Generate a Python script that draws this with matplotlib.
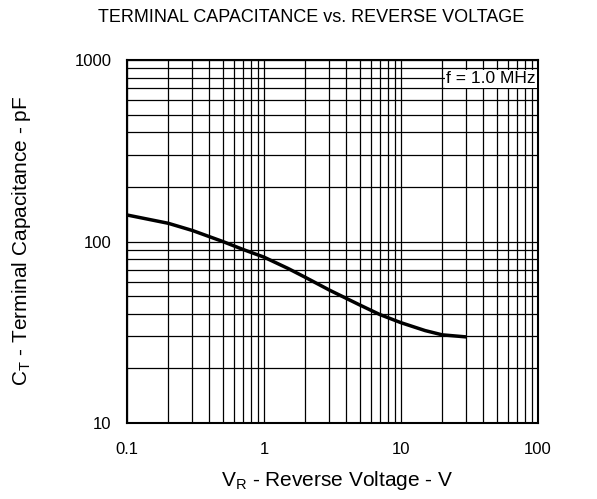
import numpy as np
import matplotlib
matplotlib.use('Agg')
import matplotlib.pyplot as plt
from matplotlib.ticker import LogLocator, FixedLocator, NullFormatter

plt.rcParams['font.family'] = ['Liberation Sans', 'DejaVu Sans']

# Data
vr = np.array([0.1, 0.2, 0.3, 0.5, 0.7, 1.0, 1.5, 2.0, 3.0, 5.0, 7.0, 10.0, 15.0, 20.0, 30.0])
ct = np.array([140, 126, 115, 100, 90.5, 82, 71, 63.5, 54, 44.7, 39.6, 35.7, 32.3, 30.6, 29.8])

x_ticks = [0.1, 1, 10, 100]
x_labels = ['0.1', '1', '10', '100']
y_ticks = [10, 100, 1000]
y_labels = ['10', '100', '1000']

fig = plt.figure(figsize=(5.97, 4.99), dpi=100)
ax = fig.add_axes([127/597, 1 - 423/499, 411/597, 363/499])

ax.plot(vr, ct, color='black', lw=2.5, solid_capstyle='butt')

ax.set_xscale('log')
ax.set_yscale('log')
ax.set_xlim(0.1, 100)
ax.set_ylim(10, 1000)

ax.xaxis.set_major_locator(FixedLocator(x_ticks))
ax.set_xticklabels(x_labels)
ax.yaxis.set_major_locator(FixedLocator(y_ticks))
ax.set_yticklabels(y_labels)
ax.xaxis.set_minor_locator(LogLocator(base=10, subs=np.arange(2, 10)))
ax.yaxis.set_minor_locator(LogLocator(base=10, subs=np.arange(2, 10)))
ax.xaxis.set_minor_formatter(NullFormatter())
ax.yaxis.set_minor_formatter(NullFormatter())

ax.grid(True, which='both', color='black', lw=0.9)
ax.tick_params(which='both', length=0, labelsize=12)
ax.tick_params(axis='x', pad=14)
ax.tick_params(axis='y', pad=11)
for s in ax.spines.values():
    s.set_linewidth(1.5)

ax.text(0.995, 0.948, 'f = 1.0 MHz', transform=ax.transAxes, ha='right', va='center',
        fontsize=12.5, bbox=dict(facecolor='white', edgecolor='none', pad=1))

fig.text(311/597, 1 - 18/499, 'TERMINAL CAPACITANCE vs. REVERSE VOLTAGE',
         ha='center', va='center', fontsize=13)
fig.text(337/597, 1 - 481/499, r'V$_{\mathregular{R}}$ - Reverse Voltage - V',
         ha='center', va='center', fontsize=15)
fig.text(22/597, 1 - 241/499, r'C$_{\mathregular{T}}$ - Terminal Capacitance - pF',
         ha='center', va='center', rotation=90, fontsize=15)

fig.savefig('out.png', dpi=100)
